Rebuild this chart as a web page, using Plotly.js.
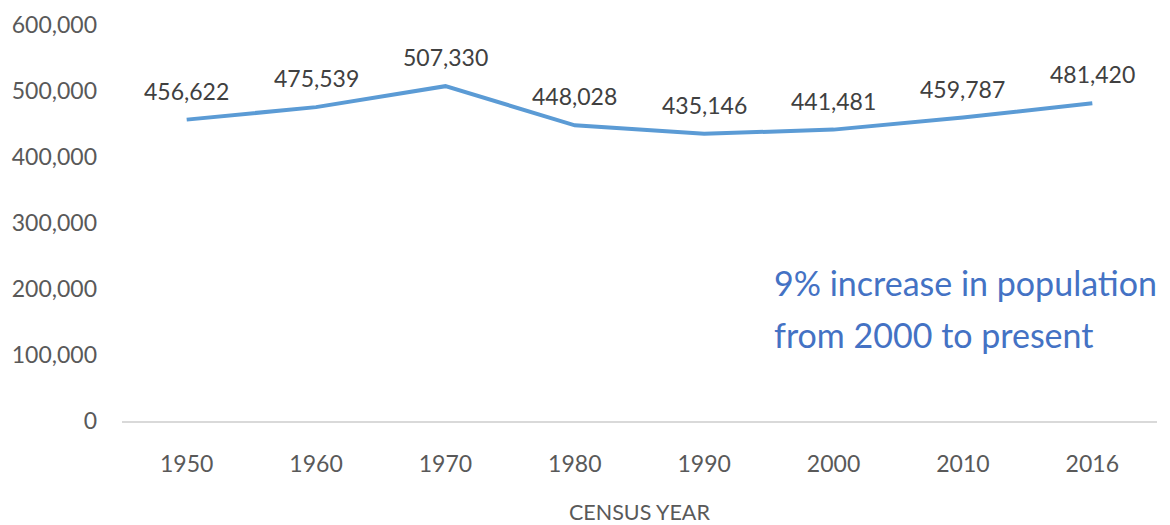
<!DOCTYPE html>
<html>
<head>
<meta charset="utf-8">
<script src="https://cdn.plot.ly/plotly-3.0.1.min.js"></script>
<style>html,body{margin:0;padding:0;background:#fff;}#chart{width:1170px;height:525px;}</style>
</head>
<body>
<div id="chart"></div>
<script>
const years = ["1950", "1960", "1970", "1980", "1990", "2000", "2010", "2016"];
const population = [456622, 475539, 507330, 448028, 435146, 441481, 459787, 481420];
const yTicks = [0, 100000, 200000, 300000, 400000, 500000, 600000];
const yTickLabels = ["0", "100,000", "200,000", "300,000", "400,000", "500,000", "600,000"];

const FONT = "Lato, 'Open Sans', sans-serif";
const GREY = "#595959";

const labelAnnotations = years.map((yr, i) => ({
  x: i, y: population[i], xref: "x", yref: "y",
  text: population[i].toLocaleString("en-US"),
  showarrow: false, yanchor: "middle", yshift: 29,
  font: {family: FONT, size: 23, color: "#404040"}
}));

const trace = {
  x: years, y: population, type: "scatter", mode: "lines",
  line: {color: "#5B9BD5", width: 4}, hoverinfo: "skip"
};

const layout = {
  width: 1170, height: 525,
  margin: {l: 122, r: 13, t: 25, b: 104},
  paper_bgcolor: "#fff", plot_bgcolor: "#fff",
  showlegend: false,
  xaxis: {
    type: "category", range: [-0.5, 7.5],
    showgrid: false, zeroline: false,
    showline: true, linecolor: "#d9d9d9", linewidth: 1.5,
    ticks: "", ticklabelstandoff: 22,
    tickfont: {family: FONT, size: 23, color: GREY}
  },
  yaxis: {
    range: [0, 600000], tickvals: yTicks, ticktext: yTickLabels,
    showgrid: false, zeroline: false, showline: false,
    ticks: "", ticklabelstandoff: 24,
    tickfont: {family: FONT, size: 23, color: GREY}
  },
  annotations: labelAnnotations.concat([
    {xref: "paper", yref: "paper", x: 0.5, y: -0.2298, yanchor: "middle",
     text: "CENSUS YEAR", showarrow: false,
     font: {family: FONT, size: 21.5, color: GREY}},
    {xref: "paper", yref: "paper", x: 0.628, y: 0.3485, xanchor: "left", yanchor: "middle",
     align: "left", text: "9% increase in population", showarrow: false,
     font: {family: FONT, size: 34, color: "#4472C4"}},
    {xref: "paper", yref: "paper", x: 0.628, y: 0.2172, xanchor: "left", yanchor: "middle",
     align: "left", text: "from 2000 to present", showarrow: false,
     font: {family: FONT, size: 34, color: "#4472C4"}}
  ])
};

Plotly.newPlot("chart", [trace], layout, {displayModeBar: false, staticPlot: true});
</script>
</body>
</html>
